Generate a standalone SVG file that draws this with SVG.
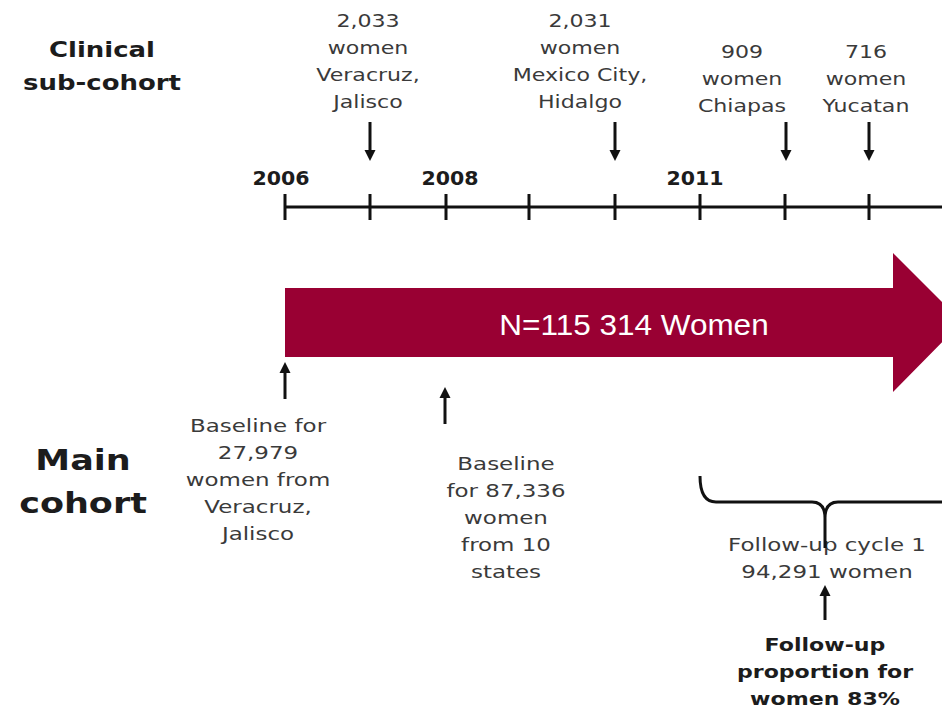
<svg xmlns="http://www.w3.org/2000/svg" width="942" height="711" viewBox="0 0 942 711">
<defs>
<style>
.r{font-family:"DejaVu Sans",Verdana,sans-serif;font-size:17px;fill:#3a3a3a;text-anchor:middle}
.b{font-family:"DejaVu Sans",Verdana,sans-serif;font-weight:bold;fill:#1c1c1c;text-anchor:middle}
.ln{stroke:#111;stroke-width:3;fill:none}
</style>
<marker id="ah" viewBox="0 0 10 10" refX="0" refY="5" markerWidth="11" markerHeight="13" markerUnits="userSpaceOnUse" orient="auto"><path d="M0,0 L10,5 L0,10 z" fill="#111"/></marker>
</defs>
<rect width="942" height="711" fill="#fff"/>

<g id="clinical-title" transform="translate(102,0) scale(1.18,1)">
<text class="b" font-size="22" x="0" y="57">Clinical</text>
<text class="b" font-size="22" x="0" y="90">sub-cohort</text>
</g>

<g id="main-title" transform="translate(83,0) scale(1.25,1)">
<text class="b" font-size="28" x="0" y="470">Main</text>
<text class="b" font-size="28" x="0" y="513">cohort</text>
</g>

<g id="timeline">
<line class="ln" x1="285" y1="207" x2="942" y2="207"/>
<path class="ln" d="M285,194V220M370,194V220M446,194V220M529,194V220M615,194V220M700,194V220M785,194V220M869,194V220"/>
<g transform="translate(281,0) scale(1.08,1)"><text class="b" font-size="19" x="0" y="185">2006</text></g>
<g transform="translate(450,0) scale(1.08,1)"><text class="b" font-size="19" x="0" y="185">2008</text></g>
<g transform="translate(695,0) scale(1.08,1)"><text class="b" font-size="19" x="0" y="185">2011</text></g>
</g>

<g id="c1" transform="translate(368,0) scale(1.3,1)">
<text class="r" x="0" y="27">2,033</text>
<text class="r" x="0" y="54">women</text>
<text class="r" x="0" y="81">Veracruz,</text>
<text class="r" x="0" y="108">Jalisco</text>
</g>
<g id="c2" transform="translate(580,0) scale(1.3,1)">
<text class="r" x="0" y="27">2,031</text>
<text class="r" x="0" y="54">women</text>
<text class="r" x="0" y="81">Mexico City,</text>
<text class="r" x="0" y="108">Hidalgo</text>
</g>
<g id="c3" transform="translate(742,0) scale(1.3,1)">
<text class="r" x="0" y="58">909</text>
<text class="r" x="0" y="85">women</text>
<text class="r" x="0" y="112">Chiapas</text>
</g>
<g id="c4" transform="translate(866,0) scale(1.3,1)">
<text class="r" x="0" y="58">716</text>
<text class="r" x="0" y="85">women</text>
<text class="r" x="0" y="112">Yucatan</text>
</g>

<g id="cohort-arrow">
<path d="M285,288 L893,288 L893,253 L962,322 L893,392 L893,357 L285,357 Z" fill="#990033"/>
<g transform="translate(634,0) scale(1.05,1)"><text x="0" y="335" text-anchor="middle" font-family="Liberation Sans,Arial,sans-serif" font-size="30" fill="#fff">N=115 314 Women</text></g>
</g>

<g id="b1" transform="translate(258,0) scale(1.35,1)">
<text class="r" x="0" y="432">Baseline for</text>
<text class="r" x="0" y="459">27,979</text>
<text class="r" x="0" y="486">women from</text>
<text class="r" x="0" y="513">Veracruz,</text>
<text class="r" x="0" y="540">Jalisco</text>
</g>
<g id="b2" transform="translate(506,0) scale(1.35,1)">
<text class="r" x="0" y="470">Baseline</text>
<text class="r" x="0" y="497">for 87,336</text>
<text class="r" x="0" y="524">women</text>
<text class="r" x="0" y="551">from 10</text>
<text class="r" x="0" y="578">states</text>
</g>

<g id="f1" transform="translate(827,0) scale(1.35,1)">
<text class="r" x="0" y="551">Follow-up cycle 1</text>
<text class="r" x="0" y="578">94,291 women</text>
</g>
<g id="f2" transform="translate(825,0) scale(1.3,1)">
<text class="b" font-size="17" x="0" y="651">Follow-up</text>
<text class="b" font-size="17" x="0" y="678">proportion for</text>
<text class="b" font-size="17" x="0" y="705">women 83%</text>
</g>

<g id="connectors">
<line class="ln" x1="370" y1="122" x2="370" y2="150" marker-end="url(#ah)"/>
<line class="ln" x1="615" y1="122" x2="615" y2="150" marker-end="url(#ah)"/>
<line class="ln" x1="786" y1="122" x2="786" y2="150" marker-end="url(#ah)"/>
<line class="ln" x1="869" y1="122" x2="869" y2="150" marker-end="url(#ah)"/>
<line class="ln" x1="285" y1="399" x2="285" y2="373" marker-end="url(#ah)"/>
<line class="ln" x1="445" y1="424" x2="445" y2="398" marker-end="url(#ah)"/>
<line class="ln" x1="825" y1="620" x2="825" y2="596" marker-end="url(#ah)"/>
<path class="ln" d="M700,476 Q700,502 716,502 L812,502 Q825,502 825,518 L825,548 M825,518 Q825,502 838,502 L945,502"/>
</g>
</svg>
